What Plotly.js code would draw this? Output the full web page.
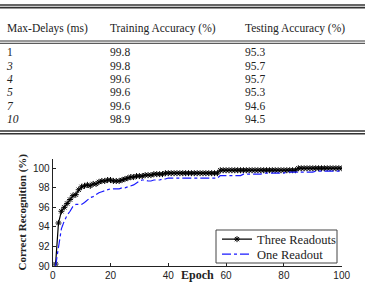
<!DOCTYPE html>
<html>
<head>
<meta charset="utf-8">
<script src="https://cdn.plot.ly/plotly-3.0.1.min.js"></script>
<style>html,body{margin:0;padding:0;background:#fff;}#chart{width:365px;height:288px;}</style>
</head>
<body>
<div id="chart"></div>
<script>
// ---- Table data ----
var tableHeaders = ['Max-Delays (ms)', 'Training Accuracy (%)', 'Testing Accuracy (%)'];
var maxDelays = ['1', '3', '4', '5', '7', '10'];
var trainingAcc = ['99.8', '99.8', '99.6', '99.6', '99.6', '98.9'];
var testingAcc = ['95.3', '95.7', '95.7', '95.3', '94.6', '94.5'];

// ---- Chart data ----
var epochs = [];
for (var i = 1; i <= 100; i++) epochs.push(i);
var threeReadouts = [
  90.2, 94.4, 95.6, 96.0, 96.4, 96.8, 97.2, 97.3, 97.8, 98.1,
  98.2, 98.3, 98.2, 98.4, 98.4, 98.6, 98.7, 98.7, 98.8, 98.8,
  98.7, 98.7, 98.7, 98.8, 98.9, 99.0, 99.1, 99.1, 99.2, 99.2,
  99.2, 99.3, 99.3, 99.3, 99.4, 99.4, 99.4, 99.4, 99.5, 99.5,
  99.5, 99.5, 99.5, 99.5, 99.5, 99.5, 99.5, 99.5, 99.5, 99.5,
  99.5, 99.5, 99.5, 99.5, 99.5, 99.5, 99.5, 99.8, 99.8, 99.8,
  99.8, 99.8, 99.8, 99.8, 99.8, 99.8, 99.8, 99.8, 99.8, 99.8,
  99.8, 99.8, 99.8, 99.8, 99.8, 99.8, 99.8, 99.8, 99.8, 99.8,
  99.8, 99.8, 99.8, 99.8, 100.0, 100.0, 100.0, 100.0, 100.0, 100.0,
  100.0, 100.0, 100.0, 100.0, 100.0, 100.0, 100.0, 100.0, 100.0, 100.0
];
var oneReadout = [
  90.0, 92.0, 93.8, 94.6, 95.2, 95.6, 96.1, 96.3, 96.3, 96.3,
  96.5, 96.8, 97.0, 97.1, 97.3, 97.5, 97.6, 97.7, 97.8, 97.9,
  97.9, 97.9, 97.9, 98.0, 98.0, 98.1, 98.2, 98.3, 98.5, 98.7,
  98.8, 98.8, 98.7, 98.7, 98.8, 98.8, 98.8, 98.9, 98.9, 99.0,
  99.0, 99.0, 99.0, 99.0, 99.0, 99.0, 99.0, 99.0, 99.0, 99.0,
  99.0, 99.0, 99.0, 99.0, 99.0, 99.0, 99.0, 99.25, 99.25, 99.25,
  99.25, 99.25, 99.25, 99.25, 99.25, 99.4, 99.4, 99.4, 99.4, 99.4,
  99.4, 99.4, 99.5, 99.5, 99.5, 99.5, 99.5, 99.5, 99.5, 99.5,
  99.6, 99.6, 99.6, 99.6, 99.6, 99.6, 99.6, 99.6, 99.6, 99.6,
  99.7, 99.7, 99.7, 99.7, 99.7, 99.7, 99.7, 99.7, 99.7, 99.7
];
var xTicks = [0, 20, 40, 60, 80, 100];
var yTicks = [90, 92, 94, 96, 98, 100];

// ---- layout constants (pixels) ----
var W = 365, H = 288;
function py(p) { return 1 - p / H; }
function px(p) { return p / W; }
var colLeft = [7, 110, 245];       // text column starts on the table axis
var headerY = 29.5, firstRowY = 53.5, rowPitch = 13.35;

var serif = 'Liberation Serif';
var sans = 'Liberation Sans';
var ink = '#222';

// ---- table as text traces on a hidden pixel-like axis pair ----
var rowYs = maxDelays.map(function (_, i) { return firstRowY + i * rowPitch; });
function colX(c, n) { var a = []; for (var k = 0; k < n; k++) a.push(colLeft[c]); return a; }
function textTrace(x, y, text) {
  return {
    type: 'scatter', mode: 'text', x: x, y: y, text: text,
    textposition: 'middle right', showlegend: false, hoverinfo: 'skip',
    textfont: {family: serif, size: 11.5, color: ink},
    xaxis: 'x2', yaxis: 'y2', cliponaxis: false
  };
}
var delayText = maxDelays.map(function (d, i) { return i === 0 ? d : '<i>' + d + '</i>'; });
var tableTraces = [
  textTrace(colLeft.slice(), [headerY, headerY, headerY], tableHeaders),
  textTrace(colX(0, maxDelays.length), rowYs, delayText),
  textTrace(colX(1, trainingAcc.length), rowYs, trainingAcc),
  textTrace(colX(2, testingAcc.length), rowYs, testingAcc)
];

var traceThree = {
  type: 'scatter', mode: 'lines+markers', name: 'Three Readouts',
  x: epochs, y: threeReadouts,
  line: {color: 'black', width: 1.2},
  marker: {symbol: 'asterisk-open', size: 5, color: 'black', line: {color: 'black', width: 1}},
  xaxis: 'x', yaxis: 'y', legend: 'legend'
};
var traceOne = {
  type: 'scatter', mode: 'lines', name: 'One Readout',
  x: epochs, y: oneReadout,
  line: {color: '#1a1aff', width: 1.2, dash: 'dashdot'},
  xaxis: 'x', yaxis: 'y', legend: 'legend2'
};

function hline(ypx, w) {
  return {type: 'line', xref: 'paper', yref: 'paper', x0: 0, x1: 1, y0: py(ypx), y1: py(ypx),
          line: {color: '#333', width: w}};
}
function legendAt(yCenter) {
  return {
    x: px(217), y: py(yCenter), xanchor: 'left', yanchor: 'middle',
    bgcolor: 'rgba(0,0,0,0)', borderwidth: 0,
    font: {family: serif, size: 12.5, color: ink}
  };
}

var layout = {
  width: W, height: H,
  margin: {l: 0, r: 0, t: 0, b: 0},
  paper_bgcolor: 'white', plot_bgcolor: 'white',
  showlegend: true,
  xaxis: {
    domain: [px(52.7), px(341.7)], range: [0, 100], anchor: 'y',
    tickvals: xTicks, ticks: 'inside', ticklen: 3, tickcolor: ink,
    showline: true, linecolor: ink, linewidth: 1,
    showgrid: false, zeroline: false,
    tickfont: {family: sans, size: 10, color: ink}
  },
  yaxis: {
    domain: [py(266), py(158.5)], range: [90, 101], anchor: 'x',
    tickvals: yTicks, ticks: 'inside', ticklen: 3, tickcolor: ink,
    showline: true, linecolor: ink, linewidth: 1,
    showgrid: false, zeroline: false,
    tickfont: {family: sans, size: 10, color: ink},
    title: {text: 'Correct Recognition (%)', standoff: 4,
            font: {family: serif, size: 11, color: ink, weight: 'bold'}}
  },
  xaxis2: {domain: [0, 1], range: [0, W], anchor: 'y2', visible: false, fixedrange: true},
  yaxis2: {domain: [py(140), 1], range: [140, 0], anchor: 'x2', visible: false, fixedrange: true},
  legend: legendAt(239.5),
  legend2: legendAt(254.5),
  annotations: [{
    xref: 'x', yref: 'paper', x: 50, y: py(275), xanchor: 'center', yanchor: 'middle',
    text: 'Epoch', showarrow: false,
    font: {family: serif, size: 12, color: ink, weight: 'bold'}
  }],
  shapes: [
    hline(5, 1.6), hline(7.6, 1.6),
    hline(41, 1), hline(43.3, 1),
    hline(131, 1.6), hline(133.8, 1.6),
    {type: 'rect', xref: 'paper', yref: 'paper', x0: px(216), x1: px(337), y0: py(263), y1: py(230),
     fillcolor: 'white', line: {color: '#444', width: 1}, layer: 'above'}
  ]
};

Plotly.newPlot('chart', tableTraces.concat([traceThree, traceOne]), layout, {displayModeBar: false, staticPlot: true});
</script>
</body>
</html>
